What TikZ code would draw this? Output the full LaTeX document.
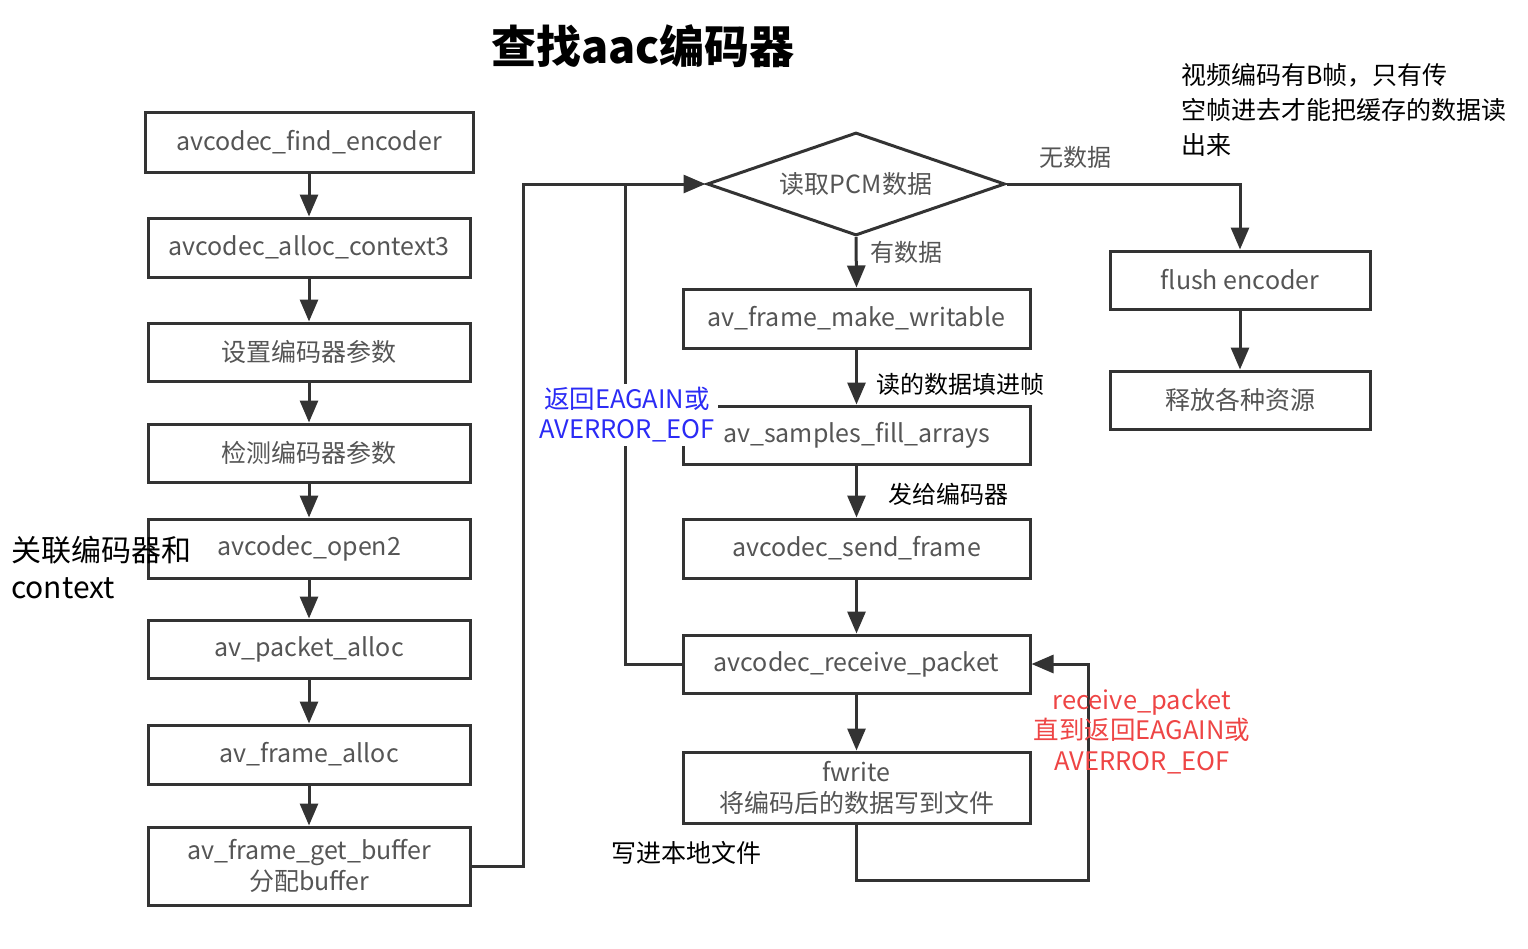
\documentclass[tikz,border=0pt]{standalone}
\usepackage{fontspec}
\setmainfont{Noto Sans CJK SC}
\usetikzlibrary{arrows.meta,shapes.geometric}
\definecolor{ln}{HTML}{333333}
\definecolor{tx}{HTML}{555555}
\definecolor{bl}{HTML}{2B2BF5}
\definecolor{rd}{HTML}{EE4545}
\tikzset{
  box/.style={draw=ln, line width=3pt, minimum height=58pt, inner sep=0pt, text=tx, font=\fontsize{25}{31}\selectfont, align=center},
  lbox/.style={box, minimum width=322pt},
  rbox/.style={box, minimum width=347pt},
  fbox/.style={box, minimum width=260pt},
  conn/.style={draw=ln, line width=3pt},
  arr/.style={conn, -{Triangle[length=22pt,width=18pt]}},
  lab/.style={font=\fontsize{24}{30}\selectfont, inner sep=0pt, align=center},
}
\begin{document}
\begin{tikzpicture}[x=1pt,y=-1pt]
\useasboundingbox (0,0) rectangle (1528,948);

% title
\node[font=\fontsize{45}{50}\selectfont\bfseries, inner sep=0pt] (title) at (643,46) {查找aac编码器};

% left column
\node[lbox, minimum width=328pt, minimum height=60pt] (fe) at (309,142) {avcodec\_find\_encoder};
\node[lbox, minimum height=59pt] (ac) at (309,247.5) {avcodec\_alloc\_context3};
\node[lbox] (sp) at (309,352) {设置编码器参数};
\node[lbox] (cp) at (309,453) {检测编码器参数};
\node[lbox, minimum height=59pt] (op) at (309,548.5) {avcodec\_open2};
\node[lbox] (pa) at (309,649) {av\_packet\_alloc};
\node[lbox, minimum height=59pt] (fa) at (309,754.5) {av\_frame\_alloc};
\node[lbox, minimum height=78pt] (gb) at (309,866) {av\_frame\_get\_buffer\\分配buffer};

\foreach \a/\b in {fe/ac,ac/sp,sp/cp,cp/op,op/pa,pa/fa,fa/gb}
  \draw[arr] (\a.south) -- (\b.north);

% right column
\node[diamond, draw=ln, line width=3pt, minimum width=298pt, minimum height=103pt, inner sep=0pt, aspect=2.9, text=tx, font=\fontsize{25}{31}\selectfont] (dia) at (856,184) {读取PCM数据};
\node[rbox, minimum height=59pt] (mw) at (856.5,318.5) {av\_frame\_make\_writable};
\node[rbox] (sf) at (856.5,435) {av\_samples\_fill\_arrays};
\node[rbox, minimum height=59pt] (sd) at (856.5,548.5) {avcodec\_send\_frame};
\node[rbox] (rp) at (856.5,664) {avcodec\_receive\_packet};
\node[rbox, minimum height=71pt] (fw) at (856.5,787.5) {fwrite\\将编码后的数据写到文件};

\node[fbox] (fl) at (1240,280) {flush encoder};
\node[fbox] (rl) at (1240,400) {释放各种资源};

% connectors
\coordinate (c1) at (523,866);
\coordinate (j) at (625,184);
\coordinate (c2) at (1088,880);
\draw[arr] (gb.east |- c1) -- (c1) |- (dia.west);
\draw[conn] (rp.west) -| (j);
\draw[arr] (dia.south) -- (mw.north);
\draw[arr] (mw.south) -- (sf.north);
\draw[arr] (sf.south) -- (sd.north);
\draw[arr] (sd.south) -- (rp.north);
\draw[arr] (rp.south) -- (fw.north);
\draw[arr] (fw.south) |- (c2) |- (rp.east);
\draw[arr] (dia.east) -| (fl.north);
\draw[arr] (fl.south) -- (rl.north);

% labels
\node[lab, text=tx] (l1) at (906,252) {有数据};
\node[lab] (l2) at (960,384) {读的数据填进帧};
\node[lab] (l3) at (948,494) {发给编码器};
\node[lab, text=tx] (l4) at (1075,157) {无数据};
\node[lab, text=bl, font=\fontsize{25.5}{30}\selectfont, fill=white, inner xsep=4pt, inner ysep=4pt] (l5) at (627,415) {返回EAGAIN或\\AVERROR\_EOF};
\node[lab, text=rd, font=\fontsize{25.5}{30.5}\selectfont] (l6) at (1142,731.5) {receive\_packet\\直到返回EAGAIN或\\AVERROR\_EOF};
\node[lab, font=\fontsize{25}{30}\selectfont] (l7) at (686,853) {写进本地文件};
\node[lab, font=\fontsize{30}{37}\selectfont, align=left, anchor=west] (l8) at (11,567) {关联编码器和\\context};
\node[lab, font=\fontsize{25}{35}\selectfont, align=left, anchor=north west] (l9) at (1181,63) {视频编码有B帧，只有传\\空帧进去才能把缓存的数据读\\出来};
\end{tikzpicture}
\end{document}
